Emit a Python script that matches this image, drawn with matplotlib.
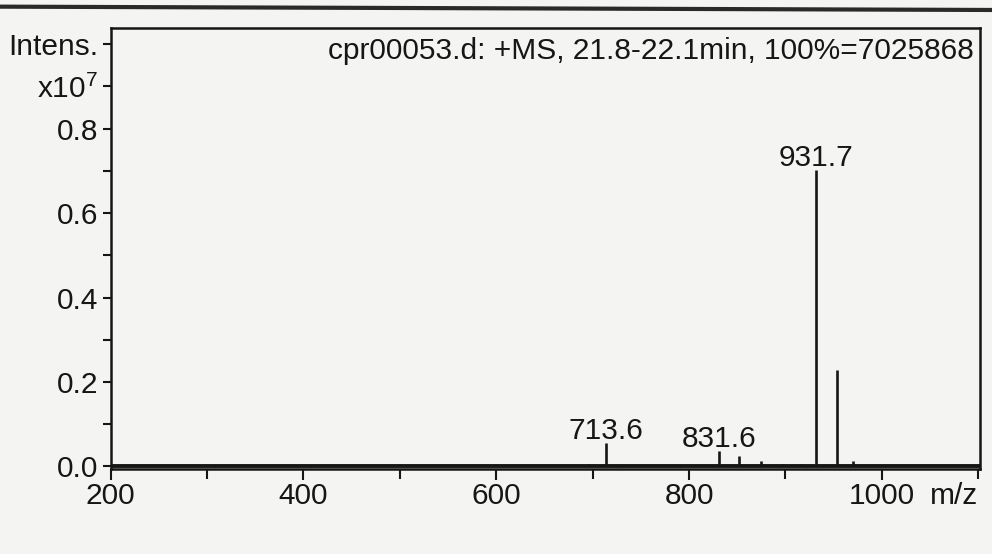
import matplotlib
matplotlib.use("Agg")
import matplotlib.pyplot as plt
import numpy as np
from matplotlib.lines import Line2D

plt.rcParams['font.family'] = ['Liberation Sans', 'DejaVu Sans']
plt.rcParams['mathtext.fontset'] = 'custom'
plt.rcParams['mathtext.rm'] = 'Liberation Sans'
plt.rcParams['mathtext.it'] = 'Liberation Sans'
plt.rcParams['mathtext.default'] = 'regular'

# Centroided peaks of the +MS spectrum (m/z, absolute intensity)
mz = np.array([424, 528, 612, 655, 695, 713.6, 729, 814, 831.6, 852, 875,
               887, 897, 916, 931.7, 953.7, 970, 1034])
intensity = np.array([20000, 20000, 30000, 30000, 60000, 550000, 70000, 40000,
                      370000, 240000, 140000, 40000, 60000, 60000, 7025868,
                      2280000, 120000, 30000])
labeled_peaks = [713.6, 831.6, 931.7]

x_major = [200, 400, 600, 800, 1000]
x_minor = [300, 500, 700, 900, 1100]
y_ticks = [0.0, 0.2, 0.4, 0.6, 0.8, 0.9, 1.0]
y_ticklabels = ['0.0', '0.2', '0.4', '0.6', '0.8', 'x10$^7$', 'Intens.']
y_minor = [0.1, 0.3, 0.5, 0.7]
scale = 1e7

header = "cpr00053.d: +MS, 21.8-22.1min, 100%={:d}".format(int(intensity.max()))

ink = '#161616'
paper = '#f4f4f2'
fs = 21.5

fig = plt.figure(figsize=(9.92, 5.54), dpi=100)
fig.patch.set_facecolor(paper)
ax = fig.add_axes([0.1116, 0.1534, 0.988 - 0.1116, 0.9495 - 0.1534])
ax.set_facecolor(paper)

# stick spectrum on a heavy baseline
ax.axhline(0, color=ink, lw=2.8, zorder=2)
ax.vlines(mz, 0, intensity / scale, color=ink, lw=1.9, zorder=3)

for m in labeled_peaks:
    h = intensity[np.isclose(mz, m)][0] / scale
    ax.annotate(f"{m:.1f}", xy=(m, h), xytext=(0, 3), textcoords='offset points',
                ha='center', va='baseline', fontsize=fs, color=ink)

ax.set_xlim(200, 1102)
ax.set_ylim(-0.006, 1.038)

ax.set_xticks(x_major)
ax.set_xticklabels([str(v) for v in x_major])
ax.set_xticks(x_minor, minor=True)
ax.set_yticks(y_ticks)
ax.set_yticklabels(y_ticklabels)
ax.set_yticks(y_minor, minor=True)

ax.tick_params(axis='x', which='both', direction='out', length=8, width=1.5,
               pad=1, labelsize=fs, colors=ink)
ax.tick_params(axis='x', which='minor', length=7)
ax.tick_params(axis='y', which='both', direction='out', length=6, width=1.5,
               pad=3, labelsize=fs, colors=ink)

for sp in ax.spines.values():
    sp.set_linewidth(1.8)
    sp.set_color(ink)

ax.annotate('m/z', xy=(1075, 0), xycoords=('data', 'axes fraction'),
            xytext=(0, -9), textcoords='offset points', ha='center', va='top',
            fontsize=fs, color=ink)

ax.annotate(header, xy=(1, 1), xycoords='axes fraction', xytext=(-6, -31),
            textcoords='offset pixels', ha='right', va='baseline',
            fontsize=fs, color=ink)

# ruled line across the top of the page
fig.add_artist(Line2D([0, 1], [0.988, 0.982], transform=fig.transFigure,
                      color='#2a2a2a', lw=3))

fig.savefig('out.png', dpi=100, facecolor=paper)
